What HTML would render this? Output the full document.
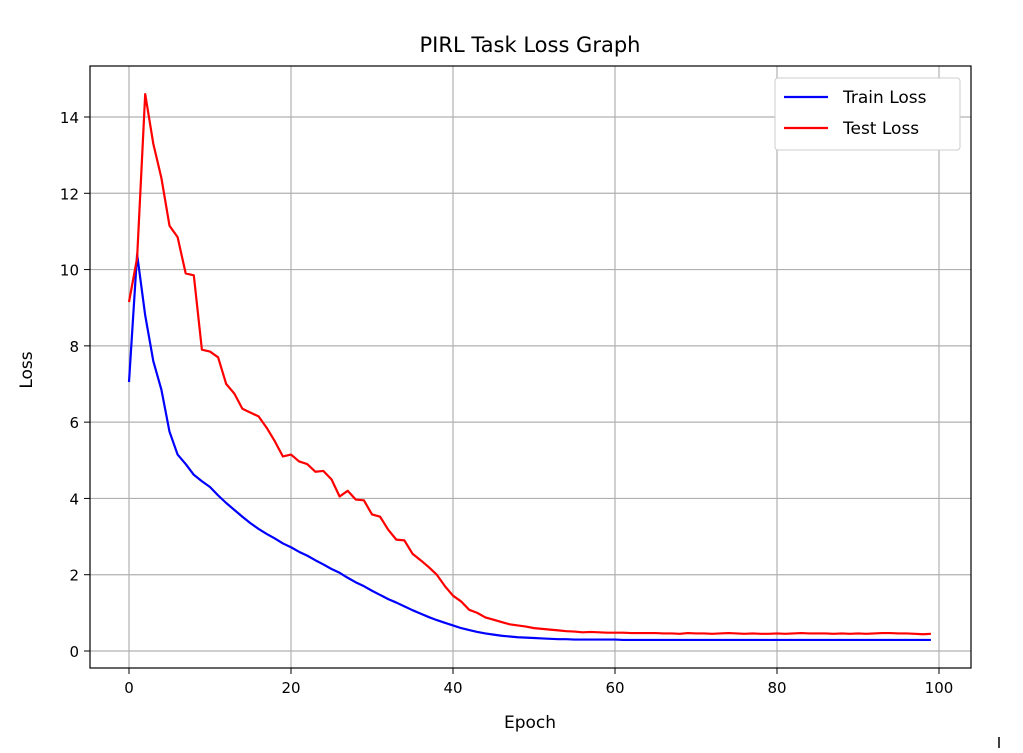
<!DOCTYPE html>
<html><head><meta charset="utf-8"><style>
body{margin:0;background:#fff;font-family:"Liberation Sans","DejaVu Sans",sans-serif}
svg text{font-family:"DejaVu Sans","Liberation Sans",sans-serif;fill:#000}
</style></head><body>
<svg id="chart" width="1023" height="748" xmlns="http://www.w3.org/2000/svg">
<rect width="1023" height="748" fill="#fff"/>
<text x="530" y="52" font-size="21" text-anchor="middle">PIRL Task Loss Graph</text>
<g id="grid"></g><g id="ticks"></g><g id="series"></g>
<rect x="90" y="66" width="881" height="602" fill="none" stroke="#000" stroke-width="1.2"/>
<text x="530" y="728" font-size="17" text-anchor="middle">Epoch</text>
<text x="32" y="370" font-size="17" text-anchor="middle" transform="rotate(-90 32 370)">Loss</text>
<g>
<rect x="775" y="78" width="185" height="72" rx="3" fill="#fff" stroke="#ccc"/>
<line x1="784" y1="97" x2="828" y2="97" stroke="#0000ff" stroke-width="2.2"/>
<text x="843" y="103" font-size="17">Train Loss</text>
<line x1="784" y1="128" x2="828" y2="128" stroke="#ff0000" stroke-width="2.2"/>
<text x="843" y="134" font-size="17">Test Loss</text>
</g>
<line x1="999" y1="737" x2="999" y2="748" stroke="#000" stroke-width="1.5"/>
</svg>
<script>
const xTicks=[0,20,40,60,80,100];
const yTicks=[0,2,4,6,8,10,12,14];
const trainLoss=[7.05,10.4,8.8,7.6,6.85,5.75,5.15,4.9,4.62,4.45,4.3,4.08,3.88,3.7,3.52,3.35,3.2,3.07,2.95,2.82,2.72,2.6,2.5,2.38,2.27,2.15,2.05,1.92,1.8,1.7,1.58,1.47,1.36,1.27,1.17,1.07,0.98,0.89,0.81,0.74,0.67,0.6,0.55,0.5,0.46,0.43,0.4,0.38,0.36,0.35,0.34,0.33,0.32,0.31,0.31,0.3,0.3,0.3,0.3,0.3,0.3,0.29,0.29,0.29,0.29,0.29,0.29,0.29,0.29,0.29,0.29,0.29,0.29,0.29,0.29,0.29,0.29,0.29,0.29,0.29,0.29,0.29,0.29,0.29,0.29,0.29,0.29,0.29,0.29,0.29,0.29,0.29,0.29,0.29,0.29,0.29,0.29,0.29,0.29,0.29];
const testLoss=[9.15,10.3,14.6,13.3,12.4,11.15,10.85,9.9,9.85,7.9,7.85,7.7,7.0,6.75,6.35,6.25,6.15,5.85,5.5,5.1,5.15,4.97,4.9,4.7,4.72,4.5,4.05,4.2,3.97,3.95,3.58,3.52,3.18,2.92,2.9,2.55,2.38,2.2,2.0,1.7,1.45,1.3,1.08,1.0,0.88,0.82,0.76,0.7,0.67,0.64,0.6,0.58,0.56,0.54,0.52,0.51,0.49,0.5,0.49,0.48,0.48,0.48,0.47,0.47,0.47,0.47,0.46,0.46,0.45,0.47,0.46,0.46,0.45,0.46,0.47,0.46,0.45,0.46,0.45,0.45,0.46,0.45,0.46,0.47,0.46,0.46,0.46,0.45,0.46,0.45,0.46,0.45,0.46,0.47,0.47,0.46,0.46,0.45,0.44,0.45];
const NS="http://www.w3.org/2000/svg";
const xs=v=>129+v*8.1, ys=v=>651-v*38.143;
function mk(t,a,p){const e=document.createElementNS(NS,t);for(const k in a)e.setAttribute(k,a[k]);p.appendChild(e);return e;}
const grid=document.getElementById('grid'),ticks=document.getElementById('ticks'),ser=document.getElementById('series');
xTicks.forEach(v=>{const x=xs(v);
 const g=mk('line',{x1:x,y1:66,x2:x,y2:668,stroke:'#b0b0b0','stroke-width':1.2},grid);
 
 
 mk('line',{x1:x,y1:668,x2:x,y2:674,stroke:'#000'},ticks);
 const t=mk('text',{x:x,y:693,'font-size':15,'text-anchor':'middle'},ticks);t.textContent=v;
 
 
});
yTicks.forEach(v=>{const y=ys(v);
 const g=mk('line',{x1:90,y1:y,x2:971,y2:y,stroke:'#b0b0b0','stroke-width':1.2},grid);
 
 
 mk('line',{x1:84,y1:y,x2:90,y2:y,stroke:'#000'},ticks);
 const t=mk('text',{x:79,y:y+6,'font-size':15,'text-anchor':'end'},ticks);t.textContent=v;
 
 
});
function line(d,c,n){const p=mk('polyline',{points:d.map((v,i)=>xs(i)+','+ys(v)).join(' '),fill:'none',stroke:c,'stroke-width':2.2,'stroke-linejoin':'round'},ser);
 
 }
line(trainLoss,'#0000ff','train-loss-line');
line(testLoss,'#ff0000','test-loss-line');
</script>
</body></html>
